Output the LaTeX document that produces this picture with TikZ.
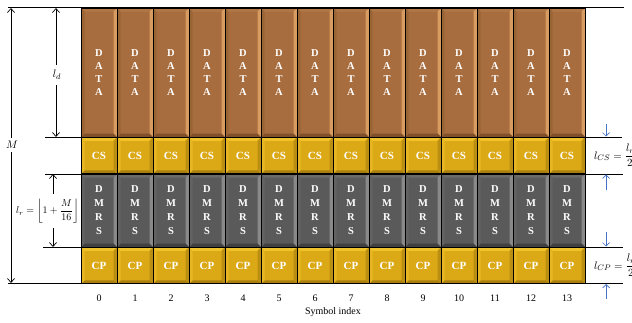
\documentclass[tikz,border=0pt]{standalone}
\usepackage{amsmath}
\usepackage{fontspec}
\setmainfont{Liberation Serif}
\usetikzlibrary{arrows.meta}
\definecolor{dmain}{HTML}{A86D3E}
\definecolor{dtop}{HTML}{B27746}
\definecolor{dright}{HTML}{D99C60}
\definecolor{dbot}{HTML}{80502A}
\definecolor{dleft}{HTML}{9A6434}
\definecolor{gmain}{HTML}{DBA816}
\definecolor{gtop}{HTML}{F0C22C}
\definecolor{gright}{HTML}{BB8E14}
\definecolor{gbot}{HTML}{A98010}
\definecolor{gleft}{HTML}{E6B722}
\definecolor{rmain}{HTML}{5A5A5A}
\definecolor{rtop}{HTML}{6A6A6A}
\definecolor{rright}{HTML}{898989}
\definecolor{rbot}{HTML}{404040}
\definecolor{rleft}{HTML}{626262}
\definecolor{arrblue}{HTML}{4472C4}
\newlength{\bvw}\setlength{\bvw}{3.5pt}
\tikzset{
  bevel/.style n args={5}{fill=#1, draw=black, line width=0.8pt,
    minimum width=36pt, inner sep=0pt, outer sep=0pt, text=white, align=center,
    path picture={
      \fill[#2] (path picture bounding box.north west) -- (path picture bounding box.north east)
        -- ([shift={(-\bvw,-\bvw)}]path picture bounding box.north east)
        -- ([shift={(\bvw,-\bvw)}]path picture bounding box.north west) -- cycle;
      \fill[#3] (path picture bounding box.north east) -- (path picture bounding box.south east)
        -- ([shift={(-\bvw,\bvw)}]path picture bounding box.south east)
        -- ([shift={(-\bvw,-\bvw)}]path picture bounding box.north east) -- cycle;
      \fill[#4] (path picture bounding box.south east) -- (path picture bounding box.south west)
        -- ([shift={(\bvw,\bvw)}]path picture bounding box.south west)
        -- ([shift={(-\bvw,\bvw)}]path picture bounding box.south east) -- cycle;
      \fill[#5] (path picture bounding box.south west) -- (path picture bounding box.north west)
        -- ([shift={(\bvw,-\bvw)}]path picture bounding box.north west)
        -- ([shift={(\bvw,\bvw)}]path picture bounding box.south west) -- cycle;
    }},
  databox/.style={bevel={dmain}{dtop}{dright}{dbot}{dleft}, minimum height=129pt,
    font=\bfseries\fontsize{10.5}{13}\selectfont},
  cyclbox/.style={bevel={gmain}{gtop}{gright}{gbot}{gleft}, minimum height=36.5pt,
    font=\bfseries\fontsize{11}{13}\selectfont},
  rsbox/.style={bevel={rmain}{rtop}{rright}{rbot}{rleft}, minimum height=73pt,
    font=\bfseries\fontsize{10.5}{14}\selectfont},
  ruler/.style={line width=1pt, black},
  dim/.style={line width=0.7pt, {Straight Barb[length=4pt,width=7pt]}-{Straight Barb[length=4pt,width=7pt]}},
  bluearr/.style={line width=0.7pt, arrblue, -{Straight Barb[length=3.5pt,width=7pt]}},
  idx/.style={font=\fontsize{10}{12}\selectfont},
  lbl/.style={font=\fontsize{11}{13}\selectfont, inner sep=1pt},
}
\begin{document}
\begin{tikzpicture}[x=1pt,y=-1pt]
\useasboundingbox (0,0) rectangle (632,322);
% ruler lines
\coordinate (t0) at (8,7.5);   \coordinate (t1) at (624,7.5);
\coordinate (a0) at (45,137);  \coordinate (a1) at (622,137);
\coordinate (b0) at (45,174);  \coordinate (b1) at (623,174);
\coordinate (c0) at (43,247);  \coordinate (c1) at (623,247);
\coordinate (e0) at (8,283.5); \coordinate (e1) at (623,283.5);
\foreach \p in {t,a,b,c,e} \draw[ruler] (\p0) -- (\p1);
% boxes
\foreach \i in {0,...,13}{
  \node[databox] (d\i) at ({99+36*\i},72.5) {D\\A\\T\\A};
  \node[cyclbox] (cs\i) at ({99+36*\i},155.5) {CS};
  \node[rsbox] (r\i) at ({99+36*\i},210.5) {D\\M\\R\\S};
  \node[cyclbox] (cp\i) at ({99+36*\i},265.5) {CP};
  \node[idx] (n\i) at ({99+36*\i},298) {\i};
}
\node[idx] (sym) at (333,312) {Symbol index};
% left dimensions
\coordinate (mT) at (11,8); \coordinate (mB) at (11,283);
\draw[dim] (mT) -- (mB);
\node[fill=white, lbl, inner sep=3pt] (mlab) at (12,145) {$M$};
\coordinate (ldT) at (56,8); \coordinate (ldB) at (56,137);
\draw[dim] (ldT) -- (ldB);
\node[fill=white, lbl, inner sep=5pt] (ldlab) at (57,75) {$l_d$};
\coordinate (lrT) at (53,174); \coordinate (lrB) at (53,247);
\draw[dim] (lrT) -- (lrB);
\node[fill=white, font=\fontsize{10}{12}\selectfont, inner sep=1pt, inner ysep=5pt] (lrlab) at (47.5,211) {$l_r=\left\lfloor 1+\dfrac{M}{16}\right\rfloor$};
% right side
\coordinate (u1) at (606,124); \coordinate (u2) at (606,136.5);
\coordinate (v1) at (606,190); \coordinate (v2) at (606,174.5);
\coordinate (w1) at (606,232); \coordinate (w2) at (606,246.5);
\coordinate (z1) at (606,299); \coordinate (z2) at (606,284);
\draw[bluearr] (u1) -- (u2);
\draw[bluearr] (v1) -- (v2);
\draw[bluearr] (w1) -- (w2);
\draw[bluearr] (z1) -- (z2);
\node[lbl, anchor=west] (lcs) at (593,155.5) {$l_{CS}=\dfrac{l_r}{2}$};
\node[lbl, anchor=west] (lcp) at (593,265.5) {$l_{CP}=\dfrac{l_r}{2}$};
\end{tikzpicture}
\end{document}
